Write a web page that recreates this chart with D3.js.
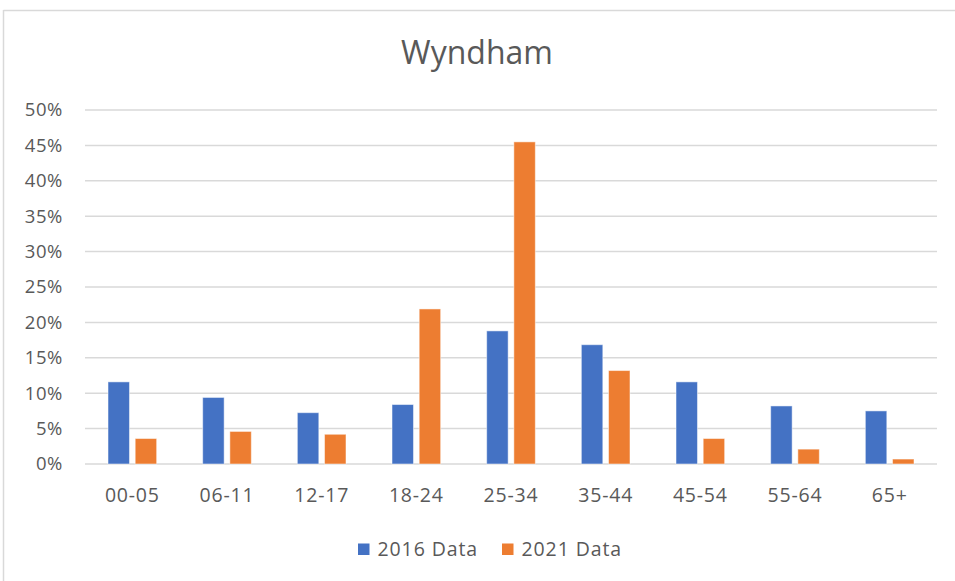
<!DOCTYPE html>
<html>
<head>
<meta charset="utf-8">
<script src="https://cdn.jsdelivr.net/npm/d3@7"></script>
<style>
  html, body { margin: 0; padding: 0; background: #fff; }
  svg { display: block; font-family: "Open Sans", "Noto Sans", sans-serif; }
</style>
</head>
<body>
<svg id="chart" width="955" height="581"></svg>
<script>
// Age groups and share of population per census year
const categories = ["00-05", "06-11", "12-17", "18-24", "25-34", "35-44", "45-54", "55-64", "65+"];
const seriesNames = ["2016 Data", "2021 Data"];
const data2016 = [0.116, 0.094, 0.0725, 0.084, 0.188, 0.1685, 0.116, 0.082, 0.075];
const data2021 = [0.036, 0.046, 0.042, 0.219, 0.455, 0.132, 0.036, 0.021, 0.007];
const yTicks = [0, 0.05, 0.10, 0.15, 0.20, 0.25, 0.30, 0.35, 0.40, 0.45, 0.50];
const seriesColors = ["#4472C4", "#ED7D31"];

const svg = d3.select("#chart");
const textColor = "#595959";
const gridColor = "#d9d9d9";

// Chart frame edges
svg.append("line").attr("x1", 3.5).attr("x2", 955).attr("y1", 10.5).attr("y2", 10.5)
  .attr("stroke", gridColor).attr("stroke-width", 1.5);
svg.append("line").attr("x1", 3.5).attr("x2", 3.5).attr("y1", 10).attr("y2", 581)
  .attr("stroke", gridColor).attr("stroke-width", 1.5);

const plot = { left: 85, right: 937, top: 110, bottom: 464 };

const x0 = d3.scaleBand().domain(categories).range([plot.left, plot.right])
  .paddingInner(0.486).paddingOuter(0.243);
const x1 = d3.scaleBand().domain(seriesNames).range([0, x0.bandwidth()]).paddingInner(0.21);
const y = d3.scaleLinear().domain([0, 0.5]).range([plot.bottom, plot.top]);

// Title
svg.append("text").attr("x", 477).attr("y", 64).attr("text-anchor", "middle")
  .attr("font-size", 32).attr("fill", textColor).text("Wyndham");

// Gridlines
svg.append("g").selectAll("line").data(yTicks).join("line")
  .attr("x1", plot.left).attr("x2", plot.right)
  .attr("y1", d => y(d)).attr("y2", d => y(d))
  .attr("stroke", gridColor).attr("stroke-width", 1.5);

// Y axis labels
const yAxis = d3.axisLeft(y).tickValues(yTicks).tickFormat(d3.format(".0%")).tickSize(0).tickPadding(0);
const gy = svg.append("g").attr("transform", "translate(63,0)").call(yAxis);
gy.select(".domain").remove();
gy.selectAll("text").attr("font-size", 18.5).attr("letter-spacing", 0.6).attr("fill", textColor)
  .attr("font-family", "\"Open Sans\", sans-serif");

// X axis labels
const xAxis = d3.axisBottom(x0).tickSize(0).tickPadding(0);
const gx = svg.append("g").attr("transform", `translate(0,${plot.bottom})`).call(xAxis);
gx.select(".domain").remove();
gx.selectAll("text").attr("font-size", 19.5).attr("letter-spacing", 0.8).attr("fill", textColor)
  .attr("dy", null).attr("y", 38)
  .attr("font-family", "\"Open Sans\", sans-serif");

// Bars
const rows = categories.map((c, i) => ({ cat: c, values: [data2016[i], data2021[i]] }));
const groups = svg.append("g").selectAll("g").data(rows).join("g")
  .attr("transform", d => `translate(${x0(d.cat)},0)`);
groups.selectAll("rect")
  .data(d => d.values.map((v, j) => ({ name: seriesNames[j], value: v, color: seriesColors[j] })))
  .join("rect")
  .attr("x", d => x1(d.name))
  .attr("width", x1.bandwidth())
  .attr("y", d => y(d.value))
  .attr("height", d => y(0) - y(d.value))
  .attr("fill", d => d.color)
  .attr("stroke", "#ffffff").attr("stroke-opacity", 0.5).attr("stroke-width", 1);

// Legend
const legendItems = [
  { name: seriesNames[0], color: seriesColors[0], x: 358 },
  { name: seriesNames[1], color: seriesColors[1], x: 502 }
];
const lg = svg.append("g").selectAll("g").data(legendItems).join("g")
  .attr("transform", d => `translate(${d.x},0)`);
lg.append("rect").attr("x", 0).attr("y", 543.5).attr("width", 11.5).attr("height", 11.5)
  .attr("fill", d => d.color);
lg.append("text").attr("x", 19.5).attr("y", 556).attr("font-size", 19.5).attr("letter-spacing", 0.9)
  .attr("fill", textColor).text(d => d.name);
</script>
</body>
</html>
